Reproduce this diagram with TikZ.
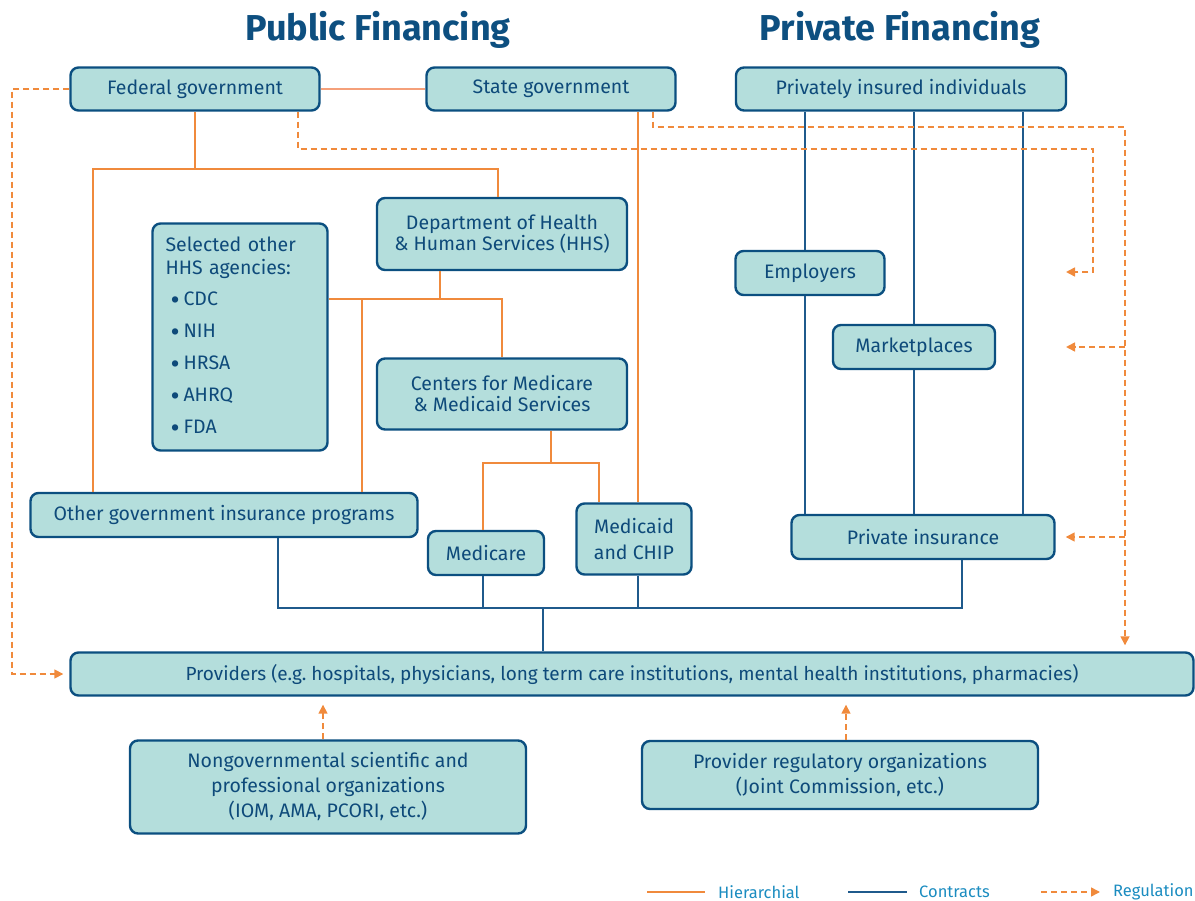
\documentclass[tikz,border=0pt]{standalone}
\usepackage{fontspec}
\setmainfont{Fira Sans}
\usetikzlibrary{arrows.meta}
\definecolor{boxfill}{HTML}{B4DEDC}
\definecolor{boxline}{HTML}{0B4F80}
\definecolor{txt}{HTML}{0E4A7A}
\definecolor{hier}{HTML}{F08A3C}
\definecolor{hierlight}{HTML}{F5A07A}
\definecolor{contr}{HTML}{1F5A8C}
\definecolor{legtxt}{HTML}{1B8CC0}
\definecolor{ttl}{HTML}{0D4F80}
\newcommand\bul{\hspace*{5pt}{\fontsize{28}{0}\selectfont\raisebox{-3.5pt}{\textbullet}}\hspace{4pt}}
\begin{document}
\begin{tikzpicture}[x=1pt,y=-1pt,
  box/.style={draw=boxline, fill=boxfill, line width=2.4pt, rounded corners=8pt,
    text=txt, font=\fontsize{19.5}{23}\selectfont, align=center, inner sep=0pt},
  titletext/.style={text=ttl, font=\fontsize{36}{40}\selectfont\bfseries},
  legtext/.style={text=legtxt, font=\fontsize{16.5}{19}\selectfont, anchor=west, inner sep=0pt},
  hline/.style={draw=hier, line width=1.5pt},
  hlight/.style={draw=hierlight, line width=2pt},
  cline/.style={draw=contr, line width=1.5pt},
  reg/.style={draw=hier, line width=1.6pt, dash pattern=on 6pt off 4pt},
  regarrow/.style={reg, -{Triangle[length=9pt,width=9pt]}, fill=none}
]
\useasboundingbox (0,0) rectangle (1195,901);

% titles
\node[titletext] (pubt) at (378,30) {Public Financing};
\node[titletext] (privt) at (900,30) {Private Financing};

% boxes
\node[box, minimum width=249, minimum height=43] (fed) at (195,89) {Federal government};
\node[box, minimum width=249, minimum height=43] (state) at (551,89) {State government};
\node[box, minimum width=330, minimum height=43] (priv) at (901,89) {Privately insured individuals};
\node[box, minimum width=250, minimum height=72] (hhs) at (502,234) {Department of Health\\[-2pt]\& Human Services (HHS)};
\node[box, minimum width=175, minimum height=227, align=left, text width=149, inner xsep=13pt] (sel) at (240,337)
  {Selected other\\[0pt]HHS agencies:\\[8pt]
   \bul CDC\\[9pt]
   \bul NIH\\[9pt]
   \bul HRSA\\[9pt]
   \bul AHRQ\\[9pt]
   \bul FDA};
\node[box, minimum width=250, minimum height=71] (cms) at (502,394) {Centers for Medicare\\[-2pt]\& Medicaid Services};
\node[box, minimum width=387, minimum height=44] (other) at (224,515) {Other government insurance programs};
\node[box, minimum width=116, minimum height=44] (medicare) at (486,553) {Medicare};
\node[box, minimum width=115, minimum height=71] (medicaid) at (634,539) {Medicaid\\[3pt]and CHIP};
\node[box, minimum width=149, minimum height=44] (employers) at (810,273) {Employers};
\node[box, minimum width=162, minimum height=44] (market) at (914,347) {Marketplaces};
\node[box, minimum width=263, minimum height=44] (privins) at (923,537) {Private insurance};
\node[box, minimum width=1123, minimum height=43, font=\fontsize{19}{23}\selectfont] (prov) at (632,674) {Providers (e.g.\ hospitals, physicians, long term care institutions, mental health institutions, pharmacies)};
\node[box, minimum width=396, minimum height=93] (ngo) at (328,787) {Nongovernmental scientific and\\[2pt]professional organizations\\[2pt](IOM, AMA, PCORI, etc.)};
\node[box, minimum width=396, minimum height=68] (preg) at (840,775) {Provider regulatory organizations\\[2pt](Joint Commission, etc.)};

% hierarchical
\draw[hlight] (fed.east) -- (state.west);
\coordinate (fedj) at (195,169);
\draw[hline] (fed.south) -- (fedj);
\draw[hline] (other.north -| 93,0) |- (fedj) -| (hhs.north -| 498,0);
\coordinate (hhsj) at (440,299);
\draw[hline] (hhs.south -| hhsj) -- (hhsj);
\draw[hline] (sel.east |- hhsj) -- (hhsj) -| (cms.north);
\draw[hline] (362,299) -- (other.north -| 362,0);
\coordinate (cmsj) at (551,463);
\draw[hline] (cms.south -| cmsj) -- (cmsj);
\draw[hline] (medicare.north -| 483,0) |- (cmsj) -| (medicaid.north -| 599,0);
\draw[hline] (state.south -| 638,0) -- (medicaid.north -| 638,0);

% contracts
\draw[cline] (priv.south -| 805,0) -- (employers.north -| 805,0);
\draw[cline] (employers.south -| 805,0) -- (privins.north -| 805,0);
\draw[cline] (priv.south -| market) -- (market.north);
\draw[cline] (market.south) -- (privins.north -| market.south);
\draw[cline] (priv.south -| 1023,0) -- (privins.north -| 1023,0);
\coordinate (cj) at (543,608);
\draw[cline] (other.south -| 278,0) |- (cj) -| (privins.south -| 962,0);
\draw[cline] (medicare.south -| 483,0) -- (483,608);
\draw[cline] (medicaid.south -| 638,0) -- (638,608);
\draw[cline] (cj) -- (prov.north -| cj);

% regulation
\draw[regarrow, shorten >=6pt] (fed.west) -- (12,89) |- (prov.west);
\draw[regarrow] (fed.south -| 298,0) |- (1093,149) -- (1093,272) -- (1066,272);
\draw[regarrow, shorten >=6pt] (state.south -| 653,0) |- (1125,127) -- (prov.north -| 1125,0);
\draw[regarrow] (1125,347) -- (1066,347);
\draw[regarrow, shorten >=10pt] (1125,537) -- (privins.east);
\draw[regarrow, shorten >=8pt] (ngo.north -| 323,0) -- (prov.south -| 323,0);
\draw[regarrow, shorten >=8pt] (preg.north -| 846,0) -- (prov.south -| 846,0);

% legend
\draw[hline] (647,892) -- (705,892);
\node[legtext] (lh) at (718,892) {Hierarchial};
\draw[cline] (848,892) -- (907,892);
\node[legtext] (lc) at (919,892) {Contracts};
\draw[regarrow] (1041,892) -- (1100,892);
\node[legtext] (lr) at (1113,892) {Regulation};
\end{tikzpicture}
\end{document}
